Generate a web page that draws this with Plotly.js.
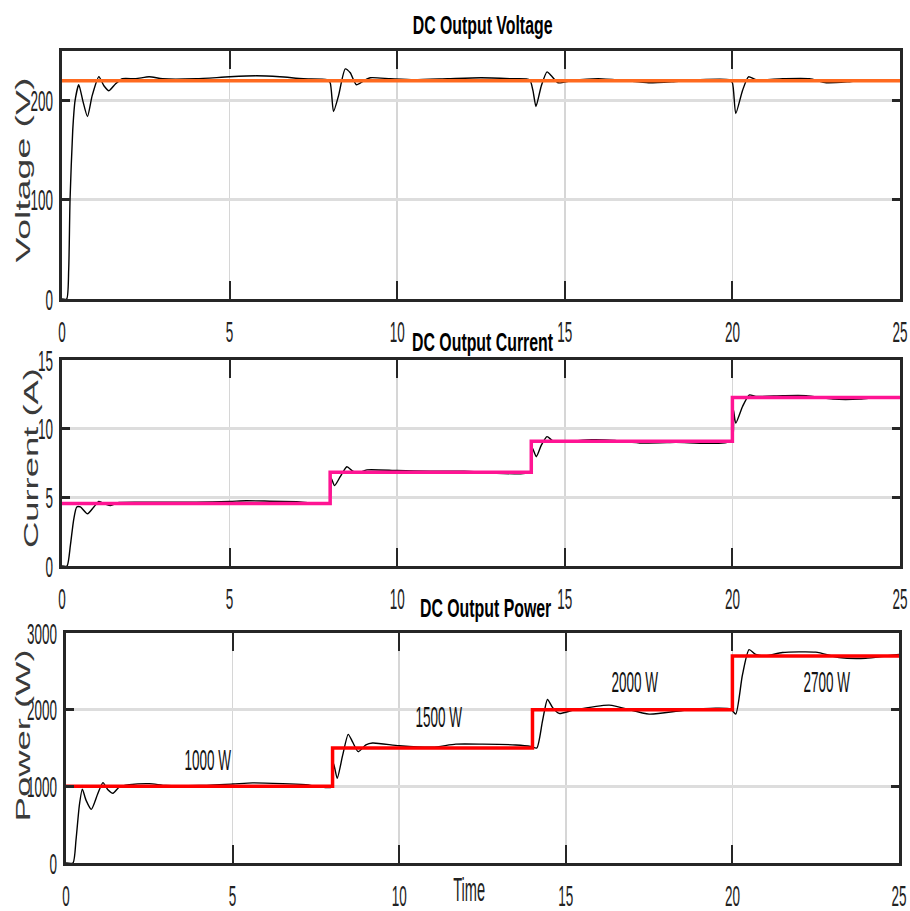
<!DOCTYPE html>
<html>
<head>
<meta charset="utf-8">
<script src="https://cdn.plot.ly/plotly-3.0.1.min.js"></script>
<style>
  html, body { margin: 0; padding: 0; background: #fff; }
  #chart { width: 910px; height: 911px; }
</style>
</head>
<body>
<div id="chart"></div>
<script>
// ---------- data ----------
const xTicks = [0, 5, 10, 15, 20, 25];

// Voltage (top)
const voltT = [0, 0.14, 0.2, 0.24, 0.32, 0.39, 0.5, 0.62, 0.76, 0.9, 1.1, 1.25, 1.4, 1.6, 1.8, 2.2, 2.6, 3.0, 4.0, 5.0, 5.8, 6.5, 7.2, 7.9,
  8.0, 8.1, 8.25, 8.45, 8.6, 8.78, 9.0, 9.2, 9.8, 10.5, 11.5, 12.5, 13.4, 13.95,
  14.05, 14.14, 14.3, 14.47, 14.6, 14.8, 15.2, 16.0, 16.8, 17.5, 18.2, 19.0, 19.9,
  20.0, 20.1, 20.3, 20.48, 20.7, 21.5, 22.3, 22.8, 23.5, 24.2, 25];
const voltMeas = [0, 0, 30, 100, 170, 200, 216, 200, 184, 205, 224, 215, 210, 217, 222, 222, 224, 222, 222, 224, 225, 224, 222, 221,
  218, 189, 205, 232, 228, 216, 220, 223, 222, 221, 222, 223, 222, 221,
  210, 194, 215, 229, 225, 218, 220, 222, 220, 218, 219, 221, 221,
  218, 187, 210, 224, 221, 222, 222, 218, 219, 221, 221];
const voltRefT = [0, 25];
const voltRef = [220, 220];

// Current (middle)
const currT = [0, 0.15, 0.25, 0.35, 0.44, 0.55, 0.76, 0.95, 1.1, 1.3, 1.45, 1.7, 2.5, 4.0, 5.0, 5.5, 6.2, 7.0, 7.97,
  8.03, 8.13, 8.3, 8.5, 8.65, 8.8, 9.1, 10.0, 11.0, 12.0, 13.97,
  14.03, 14.15, 14.3, 14.47, 14.65, 15.0, 15.8, 16.5, 17.3, 18.3, 19.97,
  20.03, 20.1, 20.3, 20.5, 20.7, 21.5, 22.2, 23.0, 23.8, 24.4, 25];
const currMeas = [0, 0, 1.5, 3.4, 4.3, 4.3, 3.8, 4.3, 4.7, 4.5, 4.4, 4.62, 4.65, 4.65, 4.7, 4.75, 4.72, 4.68, 4.6,
  6.4, 5.85, 6.5, 7.23, 6.95, 6.75, 7.0, 6.95, 6.9, 6.9, 6.85,
  8.6, 7.96, 8.8, 9.42, 9.1, 9.05, 9.2, 9.15, 8.95, 9.0, 9.1,
  11.4, 10.4, 11.6, 12.45, 12.35, 12.4, 12.4, 12.15, 12.15, 12.3, 12.3];
const currRefT = [0, 8, 14, 20, 25];
const currRef = [4.55, 6.82, 9.09, 12.27, 12.27];

// Power (bottom)
const powT = [0, 0.21, 0.3, 0.4, 0.49, 0.6, 0.76, 0.95, 1.11, 1.25, 1.41, 1.6, 1.9, 2.5, 3.0, 4.0, 5.0, 5.6, 6.5, 7.2, 7.97,
  8.03, 8.14, 8.3, 8.47, 8.6, 8.77, 9.0, 9.2, 10.0, 11.0, 11.7, 12.5, 13.5, 13.95,
  14.13, 14.3, 14.45, 14.6, 14.8, 15.2, 16.3, 17.5, 18.5, 19.5, 19.95,
  20.1, 20.3, 20.5, 20.7, 21.0, 21.5, 22.5, 23.2, 24.0, 24.6, 25];
const powMeas = [0, 0, 300, 750, 963, 820, 700, 900, 1049, 960, 910, 990, 1020, 1035, 1010, 1010, 1030, 1045, 1035, 1020, 990,
  1300, 1105, 1400, 1678, 1580, 1452, 1540, 1565, 1530, 1510, 1550, 1550, 1540, 1520,
  1500, 1850, 2133, 2030, 1951, 1990, 2059, 1942, 1990, 2020, 2010,
  1942, 2450, 2783, 2720, 2700, 2745, 2750, 2680, 2670, 2700, 2720];
const powRefT = [0, 8, 14, 20, 25];
const powRef = [1000, 1500, 2000, 2700, 2700];

const powLabels = ['1000 W', '1500 W', '2000 W', '2700 W'];
const powLabelX = [4.25, 11.2, 17.08, 22.83];
const powLabelY = [1344, 1916, 2362, 2362];

const panelTitles = ['DC Output Voltage', 'DC Output Current', 'DC Output Power'];
const yTitles = ['Voltage (V)', 'Current (A)', 'Power (W)'];

// ---------- plot ----------
const W = 910, H = 911;
const FONT = 'Liberation Sans, Arial, sans-serif';
const px = v => v / W;
const py = v => 1 - v / H;

const meas = {mode: 'lines', line: {color: '#000', width: 1.4, shape: 'spline', smoothing: 0.6}};
const traces = [
  Object.assign({x: voltT, y: voltMeas, xaxis: 'x', yaxis: 'y'}, meas),
  {x: voltRefT, y: voltRef, xaxis: 'x', yaxis: 'y', mode: 'lines', line: {color: '#ff6a1f', width: 3.5}},
  Object.assign({x: currT, y: currMeas, xaxis: 'x2', yaxis: 'y2'}, meas),
  {x: currRefT, y: currRef, xaxis: 'x2', yaxis: 'y2', mode: 'lines', line: {color: '#ff1493', width: 3.5, shape: 'hv'}},
  Object.assign({x: powT, y: powMeas, xaxis: 'x3', yaxis: 'y3'}, meas),
  {x: powRefT, y: powRef, xaxis: 'x3', yaxis: 'y3', mode: 'lines', line: {color: '#ff0000', width: 3.5, shape: 'hv'}}
];

function xAxis(dom, anchor) {
  return {
    domain: dom, anchor: anchor, range: [0, 25], tickvals: xTicks, ticktext: xTicks.map(String),
    showline: true, mirror: 'ticks', linecolor: '#262626', linewidth: 3,
    ticks: 'inside', ticklen: 18, tickwidth: 2, tickcolor: '#262626',
    showgrid: true, gridcolor: '#d6d6d6', gridwidth: 1.5, zeroline: false,
    tickfont: {family: FONT, size: 30, color: '#222'}, ticklabelstandoff: 4,
    ticklabeloverflow: 'allow', fixedrange: true
  };
}
function yAxis(dom, anchor, range, vals) {
  return {
    domain: dom, anchor: anchor, range: range, tickvals: vals, ticktext: vals.map(String),
    showline: true, mirror: 'ticks', linecolor: '#262626', linewidth: 3,
    ticks: 'inside', ticklen: 8, tickwidth: 3, tickcolor: '#262626',
    showgrid: true, gridcolor: '#dddddd', gridwidth: 3, zeroline: false,
    tickfont: {family: FONT, size: 30, color: '#222'}, ticklabelstandoff: 0,
    ticklabeloverflow: 'allow', fixedrange: true
  };
}

const annotations = [];
const titlePos = [[482, 25], [482, 342], [485, 608]];
panelTitles.forEach((t, i) => annotations.push({
  text: t, xref: 'paper', yref: 'paper', x: px(titlePos[i][0]), y: py(titlePos[i][1]),
  xanchor: 'center', yanchor: 'middle', showarrow: false,
  font: {family: FONT, size: 26, color: '#000', weight: 700}
}));
const yTitlePos = [[22, 170], [30, 458], [22, 736]];
yTitles.forEach((t, i) => annotations.push({
  text: t, xref: 'paper', yref: 'paper', x: px(yTitlePos[i][0]), y: py(yTitlePos[i][1]),
  xanchor: 'center', yanchor: 'middle', showarrow: false, textangle: -90,
  font: {family: FONT, size: 21, color: '#3a3a3a'}
}));
annotations.push({
  text: 'Time', xref: 'paper', yref: 'paper', x: px(469), y: py(889),
  xanchor: 'center', yanchor: 'middle', showarrow: false,
  font: {family: FONT, size: 34, color: '#222'}
});
powLabels.forEach((t, i) => annotations.push({
  text: t, xref: 'x3', yref: 'y3', x: powLabelX[i], y: powLabelY[i],
  xanchor: 'center', yanchor: 'middle', showarrow: false,
  font: {family: FONT, size: 30, color: '#111'}
}));

const layout = {
  width: W, height: H, margin: {l: 0, r: 0, t: 0, b: 0},
  paper_bgcolor: '#fff', plot_bgcolor: '#fff', showlegend: false,
  xaxis: xAxis([px(62), px(900)], 'y'),
  yaxis: yAxis([py(299), py(51)], 'x', [0, 250], [0, 100, 200]),
  xaxis2: xAxis([px(62), px(900)], 'y2'),
  yaxis2: yAxis([py(566), py(360)], 'x2', [0, 15], [0, 5, 10, 15]),
  xaxis3: xAxis([px(66), px(899)], 'y3'),
  yaxis3: yAxis([py(863), py(633)], 'x3', [0, 3000], [0, 1000, 2000, 3000]),
  annotations: annotations
};

Plotly.newPlot('chart', traces, layout, {staticPlot: true, displayModeBar: false}).then(() => {
  // narrow (condensed) look of the original figure's text
  function squeeze(el, f) {
    const w = el.getComputedTextLength();
    if (w > 0) { el.setAttribute('textLength', (w * f).toFixed(1)); el.setAttribute('lengthAdjust', 'spacingAndGlyphs'); }
  }
  function setLen(el, len) {
    el.setAttribute('textLength', len); el.setAttribute('lengthAdjust', 'spacingAndGlyphs');
  }
  document.querySelectorAll('.xtick text, .ytick text, .x2tick text, .y2tick text, .x3tick text, .y3tick text')
    .forEach(el => squeeze(el, 0.45));
  const yLen = {'Voltage (V)': 185, 'Current (A)': 180, 'Power (W)': 172};
  document.querySelectorAll('text.annotation-text').forEach(el => {
    const s = el.textContent;
    if (panelTitles.includes(s)) squeeze(el, 0.61);
    else if (yLen[s]) setLen(el, yLen[s]);
    else if (s === 'Time') squeeze(el, 0.43);
    else squeeze(el, 0.45);
  });
});
</script>
</body>
</html>
